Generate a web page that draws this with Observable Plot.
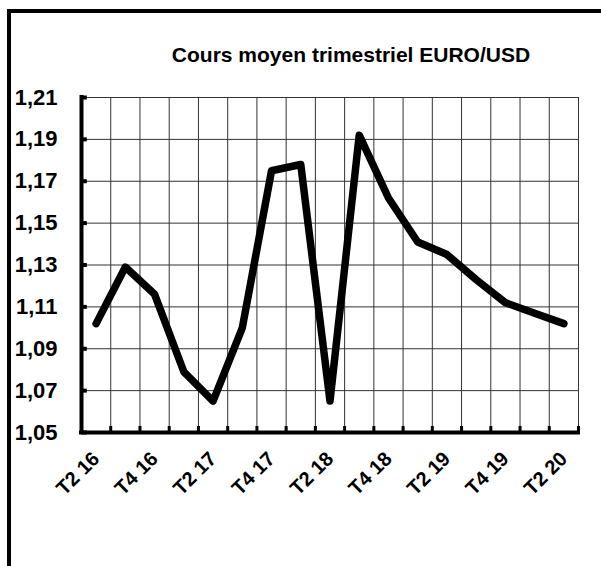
<!DOCTYPE html>
<html>
<head>
<meta charset="utf-8">
<script src="https://cdn.jsdelivr.net/npm/d3@7"></script>
<script src="https://cdn.jsdelivr.net/npm/@observablehq/plot@0.6"></script>
<style>
  html, body { margin: 0; padding: 0; background: #fff; }
  #wrap { position: relative; width: 601px; height: 566px; overflow: hidden; background: #fff; }
  #frame { position: absolute; left: 7px; top: 9px; width: 800px; height: 800px; border: 4px solid #000; box-sizing: border-box; }
  #title { position: absolute; left: 101px; width: 500px; top: 43px; text-align: center; font-family: "Liberation Sans", Arial, sans-serif; font-weight: bold; font-size: 21px; color: #000; white-space: nowrap; }
  #chart { position: absolute; left: 0; top: 0; }
</style>
</head>
<body>
<div id="wrap">
  <div id="frame"></div>
  <div id="title">Cours moyen trimestriel EURO/USD</div>
  <div id="chart"></div>
</div>
<script>
const categories = ["T2 16","T3 16","T4 16","T1 17","T2 17","T3 17","T4 17","T1 18","T2 18","T3 18","T4 18","T1 19","T2 19","T3 19","T4 19","T1 20","T2 20"];
const values = [1.102, 1.129, 1.116, 1.079, 1.065, 1.100, 1.175, 1.178, 1.065, 1.192, 1.162, 1.141, 1.135, 1.123, 1.112, 1.107, 1.102];
const yTicks = [1.05, 1.07, 1.09, 1.11, 1.13, 1.15, 1.17, 1.19, 1.21];
const xTickLabels = ["T2 16","T4 16","T2 17","T4 17","T2 18","T4 18","T2 19","T4 19","T2 20"];

const data = categories.map((c, i) => ({i, c, v: values[i]}));
const labels = xTickLabels.map(l => ({i: categories.indexOf(l), l}));
const n = categories.length;
const bounds = d3.range(n + 1).map(k => k - 0.5);
const x0 = -0.5, x1 = n - 0.5;
const yMin = yTicks[0], yMax = yTicks[yTicks.length - 1];
const plotH = 566 - 97 - 134;
const stubY = yMin + (yMax - yMin) * 6 / plotH;
const fmt = d => d.toFixed(2).replace(".", ",");
const font = "'Liberation Sans', Arial, sans-serif";

const chart = Plot.plot({
  width: 601,
  height: 566,
  marginLeft: 81,
  marginRight: 23,
  marginTop: 97,
  marginBottom: 134,
  style: {background: "transparent", fontFamily: font, color: "#000"},
  x: {type: "linear", domain: [x0, x1], axis: null},
  y: {type: "linear", domain: [yMin, yMax], axis: null},
  marks: [
    // gridlines
    Plot.ruleY(yTicks.slice(1), {y: d => d, x1: x0, x2: x1, stroke: "#333", strokeWidth: 1}),
    Plot.ruleX(bounds.slice(1), {x: d => d, y1: yMin, y2: yMax, stroke: "#333", strokeWidth: 1}),
    // axis tick stubs
    Plot.ruleY(yTicks, {y: d => d, x1: x0, x2: x0 + 0.2, stroke: "#000", strokeWidth: 4}),
    Plot.ruleX(bounds, {x: d => d, y1: yMin, y2: stubY, stroke: "#000", strokeWidth: 3}),
    // axis lines
    Plot.ruleX([x0], {x: d => d, y1: yMin, y2: yMax, stroke: "#000", strokeWidth: 4, strokeLinecap: "square"}),
    Plot.ruleY([yMin], {y: d => d, x1: x0, x2: x1, stroke: "#000", strokeWidth: 4, strokeLinecap: "square"}),
    // data line
    Plot.line(data, {x: "i", y: "v", stroke: "#000", strokeWidth: 7.5, strokeLinejoin: "round", strokeLinecap: "round"}),
    // y labels
    Plot.text(yTicks, {x: x0, y: d => d, text: fmt, textAnchor: "end", dx: -24, fontSize: 22, fontWeight: "bold", fill: "#000"}),
    // x labels
    Plot.text(labels, {x: "i", y: yMin, text: "l", textAnchor: "end", rotate: -45, dx: 0, dy: 23, fontSize: 20, fontWeight: "bold", fill: "#000"})
  ]
});
document.getElementById("chart").appendChild(chart);
</script>
</body>
</html>
